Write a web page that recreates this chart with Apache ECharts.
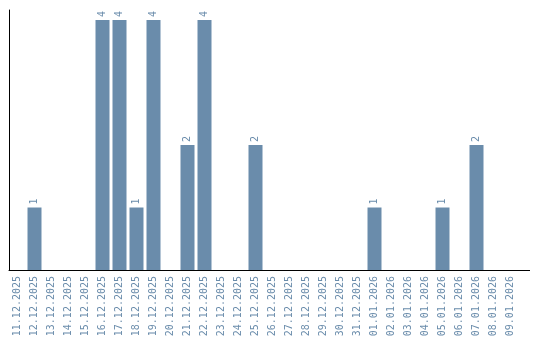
<!DOCTYPE html>
<html><head><meta charset="utf-8">
<script src="https://cdn.jsdelivr.net/npm/echarts@6/dist/echarts.min.js"></script>
<style>html,body{margin:0;padding:0;background:#fff}#c{width:540px;height:340px}</style>
</head><body><div id="c"></div>
<script>
var categories = ["11.12.2025","12.12.2025","13.12.2025","14.12.2025","15.12.2025","16.12.2025","17.12.2025","18.12.2025","19.12.2025","20.12.2025","21.12.2025","22.12.2025","23.12.2025","24.12.2025","25.12.2025","26.12.2025","27.12.2025","28.12.2025","29.12.2025","30.12.2025","31.12.2025","01.01.2026","02.01.2026","03.01.2026","04.01.2026","05.01.2026","06.01.2026","07.01.2026","08.01.2026","09.01.2026"];
var counts = [0,1,0,0,0,4,4,1,4,0,2,4,0,0,2,0,0,0,0,0,0,1,0,0,0,1,0,2,0,0];
var barColor = '#6a8cab';
var chart = echarts.init(document.getElementById('c'));
chart.setOption({
  animation: false,
  grid: {left: 9, right: 21, top: 10, bottom: 70, containLabel: false},
  graphic: [{type: 'line', shape: {x1: 518, y1: 270.5, x2: 530, y2: 270.5}, style: {stroke: '#000', lineWidth: 1}}],
  xAxis: {
    type: 'category', data: categories,
    axisLine: {lineStyle: {color: '#000', width: 1}},
    axisTick: {show: false},
    axisLabel: {rotate: 90, interval: 0, color: barColor, fontFamily: 'DejaVu Sans Mono', fontSize: 10, margin: 6}
  },
  yAxis: {
    type: 'value', min: 0, max: 4.16,
    axisLine: {show: true, lineStyle: {color: '#000', width: 1}},
    axisTick: {show: false}, axisLabel: {show: false}, splitLine: {show: false}
  },
  series: [{
    type: 'bar', barWidth: 14,
    data: counts.map(function(v){ return v === 0 ? null : v; }),
    itemStyle: {color: barColor},
    label: {show: true, position: 'top', rotate: 90, align: 'left', verticalAlign: 'middle', distance: 3,
      color: barColor, fontFamily: 'DejaVu Sans Mono', fontSize: 10}
  }]
});
</script></body></html>
